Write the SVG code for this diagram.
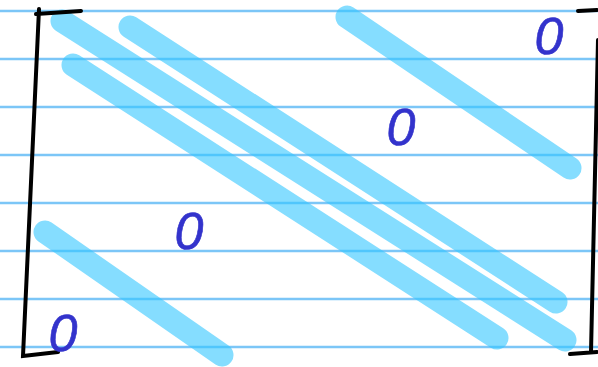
<svg xmlns="http://www.w3.org/2000/svg" width="598" height="367" viewBox="0 0 598 367">
<style>
.rule{stroke:#7cc6f7;stroke-width:2.5}
.hl{stroke:#33c6ff;stroke-opacity:0.6;stroke-width:23;stroke-linecap:round;fill:none}
.br{stroke:#000;stroke-width:4;stroke-linecap:round;fill:none}
.z{font-family:"Liberation Sans",Arial,sans-serif;font-style:italic;font-size:52px;fill:#3333cc;stroke:#3333cc;stroke-width:0.6;text-anchor:middle}
</style>
<rect width="598" height="367" fill="#fff"/>
<g id="paper">
<line class="rule" x1="0" y1="11" x2="598" y2="11"/>
<line class="rule" x1="0" y1="59" x2="598" y2="59"/>
<line class="rule" x1="0" y1="107" x2="598" y2="107"/>
<line class="rule" x1="0" y1="155" x2="598" y2="155"/>
<line class="rule" x1="0" y1="203" x2="598" y2="203"/>
<line class="rule" x1="0" y1="251" x2="598" y2="251"/>
<line class="rule" x1="0" y1="299" x2="598" y2="299"/>
<line class="rule" x1="0" y1="347" x2="598" y2="347"/>
</g>
<g id="highlights">
<line class="hl" x1="62" y1="21" x2="565" y2="340"/>
<line class="hl" x1="130" y1="27" x2="556" y2="302"/>
<line class="hl" x1="73" y1="65" x2="497" y2="338"/>
<line class="hl" x1="347" y1="17" x2="570" y2="168"/>
<line class="hl" x1="45" y1="232" x2="222" y2="355"/>
</g>
<g id="brackets">
<path class="br" d="M36 14 L81 11 M39 9 L23 356 L58 352"/>
<path class="br" d="M578 11 L597 10 M598 40 L591 352 M570 354 L597 352"/>
</g>
<g id="zeros">
<text class="z" x="549" y="54">0</text>
<text class="z" x="401" y="145">0</text>
<text class="z" x="189" y="249">0</text>
<text class="z" x="63" y="351">0</text>
</g>
</svg>
